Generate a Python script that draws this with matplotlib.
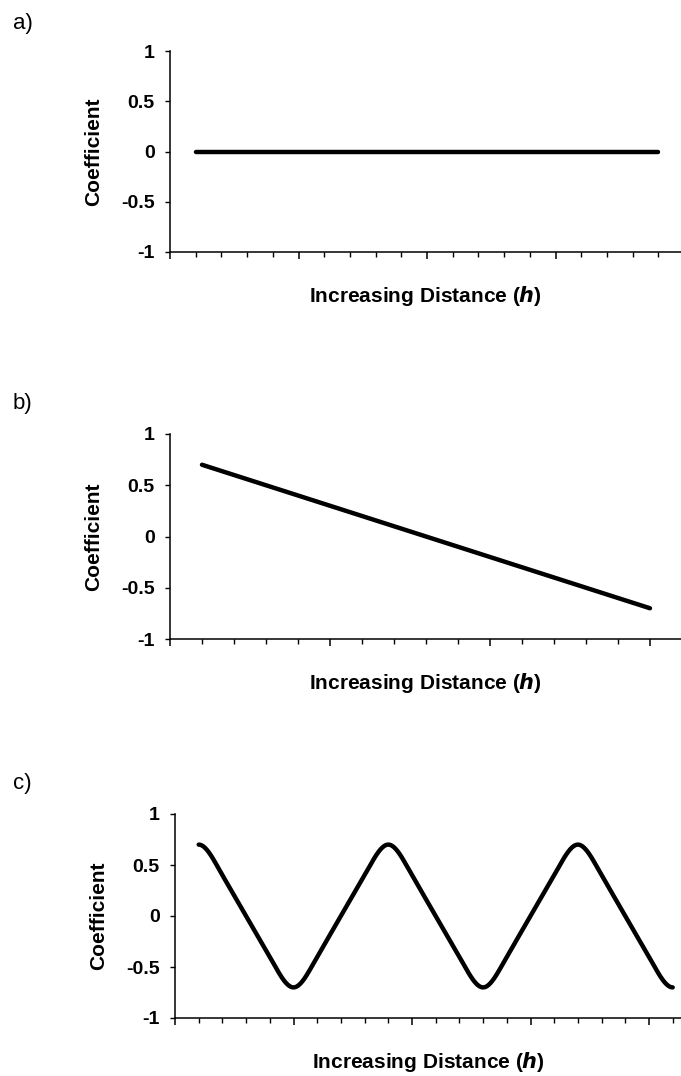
import numpy as np
import matplotlib
matplotlib.use("Agg")
import matplotlib.pyplot as plt
from matplotlib.ticker import MultipleLocator, FixedLocator

plt.rcParams["font.family"] = ["Liberation Sans", "DejaVu Sans"]
plt.rcParams["axes.unicode_minus"] = False

# Correlation coefficient at each lag step
lags_a = list(range(1, 20))
coef_a = [0.0] * 19

lags_b = list(range(1, 16))
coef_b = [0.7, 0.6, 0.5, 0.4, 0.3, 0.2, 0.1, 0.0,
          -0.1, -0.2, -0.3, -0.4, -0.5, -0.6, -0.7]

lags_c = list(range(1, 22))
coef_c = [0.7, 0.4, 0.0, -0.4, -0.7, -0.4, 0.0, 0.4, 0.7, 0.4, 0.0,
          -0.4, -0.7, -0.4, 0.0, 0.4, 0.7, 0.4, 0.0, -0.4, -0.7]

y_ticks = [-1, -0.5, 0, 0.5, 1]
y_tick_labels = ["-1", "-0.5", "0", "0.5", "1"]
panel_letters = ["a)", "b)", "c)"]
x_title = "Increasing Distance ($\\boldsymbol{h}$)"
y_title = "Coefficient"


def smooth_curve(x, y, n=40):
    """Cubic Hermite curve through every point. Tangents are flat at the
    ends and at turning points; elsewhere they follow the steeper of the
    two neighbouring chords, which keeps the runs straight."""
    x = np.asarray(x, float)
    y = np.asarray(y, float)
    d = np.diff(y) / np.diff(x)
    m = np.zeros_like(y)
    for i in range(1, len(y) - 1):
        if d[i - 1] * d[i] > 0:
            m[i] = d[i - 1] if abs(d[i - 1]) > abs(d[i]) else d[i]
    xs, ys = [], []
    t = np.linspace(0, 1, n)
    for i in range(len(y) - 1):
        h = x[i + 1] - x[i]
        h00 = 2 * t**3 - 3 * t**2 + 1
        h10 = t**3 - 2 * t**2 + t
        h01 = -2 * t**3 + 3 * t**2
        h11 = t**3 - t**2
        seg = h00 * y[i] + h10 * h * m[i] + h01 * y[i + 1] + h11 * h * m[i + 1]
        sx = x[i] + t * h
        if i > 0:
            sx, seg = sx[1:], seg[1:]
        xs.append(sx)
        ys.append(seg)
    return np.concatenate(xs), np.concatenate(ys)


W, H = 681, 1076
fig = plt.figure(figsize=(W / 100, H / 100), dpi=100)

# axes boxes in pixels: left, x-axis y, top y, xmax
panels = [
    dict(left=170, bottom=252, top=51, xmax=19.88, x=lags_a, y=coef_a, smooth=False, letter_top=13),
    dict(left=170, bottom=639, top=434, xmax=15.97, x=lags_b, y=coef_b, smooth=False, letter_top=393),
    dict(left=175, bottom=1018, top=814, xmax=21.35, x=lags_c, y=coef_c, smooth=True, letter_top=773),
]

for k, pnl in enumerate(panels):
    l = pnl["left"] / W
    b = 1 - pnl["bottom"] / H
    h = (pnl["bottom"] - pnl["top"]) / H
    ax = fig.add_axes([l, b, 1 - l, h])
    ax.set_xlim(0, pnl["xmax"])
    ax.set_ylim(-1, 1)

    if pnl["smooth"]:
        xs, ys = smooth_curve(pnl["x"], pnl["y"])
    else:
        xs, ys = pnl["x"], pnl["y"]
    ax.plot(xs, ys, color="black", lw=3.2, solid_capstyle="round",
            solid_joinstyle="round", clip_on=False)

    for side in ("top", "right"):
        ax.spines[side].set_visible(False)
    for side in ("left", "bottom"):
        ax.spines[side].set_linewidth(1.1)

    ax.yaxis.set_major_locator(FixedLocator(y_ticks))
    ax.set_yticklabels(y_tick_labels, fontsize=14, fontweight="bold")
    ax.tick_params(axis="y", direction="out", length=3.6, width=1.0, pad=7.5)

    ax.xaxis.set_major_locator(MultipleLocator(5))
    ax.xaxis.set_minor_locator(MultipleLocator(1))
    ax.tick_params(axis="x", which="major", direction="out", length=5, width=1.1,
                   labelbottom=False)
    ax.tick_params(axis="x", which="minor", direction="out", length=3.5, width=1.0)

    ax.set_xlabel(x_title, fontsize=15, fontweight="bold", labelpad=16)
    ax.set_ylabel(y_title, fontsize=15, fontweight="bold", labelpad=13)

    fig.text(13 / W, 1 - pnl["letter_top"] / H, panel_letters[k],
             fontsize=16, ha="left", va="top")

fig.savefig("out.png", dpi=100)
